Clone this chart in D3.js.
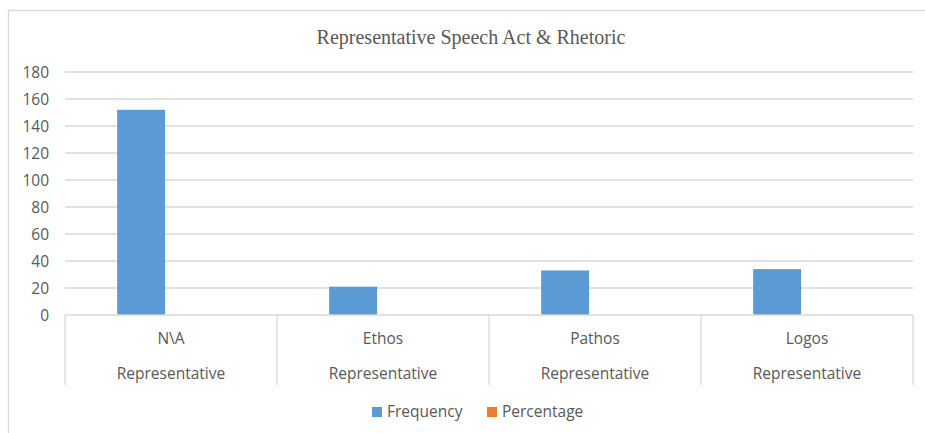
<!DOCTYPE html>
<html>
<head>
<meta charset="utf-8">
<script src="https://cdn.jsdelivr.net/npm/d3@7"></script>
<style>
  html, body { margin: 0; padding: 0; background: #ffffff; }
  svg { display: block; }
</style>
</head>
<body>
<svg id="chart" width="925" height="433"></svg>
<script>
// Chart data
const categories = ["N\\A", "Ethos", "Pathos", "Logos"];
const groupLabel = "Representative";
const seriesNames = ["Frequency", "Percentage"];
const frequency = [152, 21, 33, 34];
const percentage = [0, 0, 0, 0];
const yTicks = [0, 20, 40, 60, 80, 100, 120, 140, 160, 180];
const title = "Representative Speech Act & Rhetoric";

const colors = { Frequency: "#5b9bd5", Percentage: "#ed7d31" };
const gridColor = "#d9d9d9";
const textColor = "#595959";
const labelFont = "'Open Sans', Lato, sans-serif";
const labelSize = 15.5;

const svg = d3.select("#chart");

// Chart area frame (left and top edges visible)
svg.append("line").attr("x1", 8.5).attr("x2", 8.5).attr("y1", 10.5).attr("y2", 433)
  .attr("stroke", gridColor).attr("stroke-width", 1.3);
svg.append("line").attr("x1", 8.5).attr("x2", 925).attr("y1", 10.5).attr("y2", 10.5)
  .attr("stroke", gridColor).attr("stroke-width", 1.3);

const plot = { left: 65, right: 913, top: 72, bottom: 315 };

const x0 = d3.scaleBand().domain(categories).range([plot.left, plot.right]).padding(0);
const bw = x0.bandwidth();
const x1 = d3.scaleBand().domain(seriesNames).range([bw * 0.246, bw * 0.698]).padding(0);
const y = d3.scaleLinear().domain([0, 180]).range([plot.bottom, plot.top]);

// Horizontal gridlines
svg.append("g").selectAll("line").data(yTicks.filter(d => d > 0)).join("line")
  .attr("x1", plot.left).attr("x2", plot.right)
  .attr("y1", d => y(d)).attr("y2", d => y(d))
  .attr("stroke", gridColor).attr("stroke-width", 1.3);

// Value axis labels
const yAxis = d3.axisLeft(y).tickValues(yTicks).tickSize(0).tickPadding(0);
const gy = svg.append("g").attr("transform", `translate(${plot.left - 16},0)`).call(yAxis);
gy.select(".domain").remove();
gy.selectAll("text").attr("fill", textColor).attr("font-family", labelFont)
  .attr("font-size", labelSize).attr("dy", "0.35em");

// Bars
const rows = categories.map((c, i) => ({ cat: c, Frequency: frequency[i], Percentage: percentage[i] }));
const groups = svg.append("g").selectAll("g").data(rows).join("g")
  .attr("transform", d => `translate(${x0(d.cat)},0)`);
groups.selectAll("rect").data(d => seriesNames.map(s => ({ s, v: d[s] }))).join("rect")
  .attr("x", d => x1(d.s)).attr("width", x1.bandwidth())
  .attr("y", d => y(d.v)).attr("height", d => y(0) - y(d.v))
  .attr("fill", d => colors[d.s]);

// Category axis baseline and dividers
svg.append("line").attr("x1", plot.left).attr("x2", plot.right)
  .attr("y1", y(0)).attr("y2", y(0)).attr("stroke", gridColor).attr("stroke-width", 1.3);
const dividers = categories.map(c => x0(c)).concat([plot.right]);
svg.append("g").selectAll("line").data(dividers).join("line")
  .attr("x1", d => d).attr("x2", d => d)
  .attr("y1", y(0)).attr("y2", 385)
  .attr("stroke", gridColor).attr("stroke-width", 1.3);

// Category labels (two levels)
const xAxis = d3.axisBottom(x0).tickSize(0).tickPadding(0);
const gx = svg.append("g").attr("transform", `translate(0,${y(0) + 18})`).call(xAxis);
gx.select(".domain").remove();
gx.selectAll("text").attr("fill", textColor).attr("font-family", labelFont)
  .attr("font-size", labelSize).attr("dy", "0.71em");
svg.append("g").selectAll("text").data(categories).join("text")
  .attr("x", d => x0(d) + bw / 2).attr("y", 379)
  .attr("text-anchor", "middle").attr("fill", textColor)
  .attr("font-family", labelFont).attr("font-size", labelSize)
  .text(groupLabel);

// Title
svg.append("text").attr("x", 471).attr("y", 44).attr("text-anchor", "middle")
  .attr("fill", textColor).attr("font-family", "'Liberation Serif', 'DejaVu Serif', serif")
  .attr("font-size", 20).text(title);

// Legend
const legendItems = [
  { name: "Frequency", x: 372 },
  { name: "Percentage", x: 487 }
];
const lg = svg.append("g").selectAll("g").data(legendItems).join("g")
  .attr("transform", d => `translate(${d.x},407)`);
lg.append("rect").attr("width", 10).attr("height", 10).attr("fill", d => colors[d.name]);
lg.append("text").attr("x", 15).attr("y", 5).attr("dy", "0.35em")
  .attr("fill", textColor).attr("font-family", labelFont).attr("font-size", labelSize)
  .text(d => d.name);
</script>
</body>
</html>
